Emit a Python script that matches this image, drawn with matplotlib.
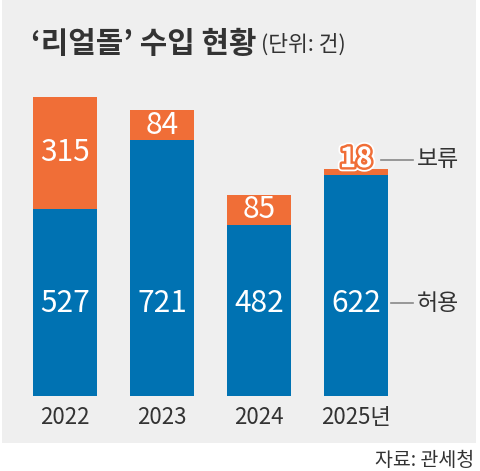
import matplotlib
matplotlib.use("Agg")
import matplotlib.pyplot as plt
from matplotlib.patches import Rectangle
import matplotlib.patheffects as pe

plt.rcParams['font.family'] = ['Noto Sans CJK KR', 'DejaVu Sans']

years = ["2022", "2023", "2024", "2025년"]
allowed = [527, 721, 482, 622]   # 허용
held = [315, 84, 85, 18]         # 보류

BLUE = "#0072b2"
ORANGE = "#f06e37"
PANEL = "#efefef"
TXT = "#333333"

W, H = 480, 471
fig = plt.figure(figsize=(W / 100, H / 100), dpi=100, facecolor="white")

# gray panel
fig.patches.append(Rectangle((2 / W, (H - 443) / H), 474 / W, 443 / H,
                             transform=fig.transFigure, facecolor=PANEL,
                             edgecolor="none", zorder=-1))

base_px = 396
scale = 299 / 842.0  # px per unit
ax = fig.add_axes([0, (H - base_px) / H, 1, base_px / H])
ax.set_zorder(2)
ax.set_facecolor("none")
x = list(range(len(years)))
ax.set_xlim(-65 / 97, (W - 65) / 97)
ax.set_ylim(0, base_px / scale)

bw = 64 / 97
ax.bar(x, allowed, width=bw, color=BLUE, zorder=2)
ax.bar(x, held, width=bw, bottom=allowed, color=ORANGE, zorder=2)

for s in ax.spines.values():
    s.set_visible(False)
ax.set_yticks([])
ax.set_xticks(x)
ax.set_xticklabels(years, fontsize=16, color=TXT, fontweight="light")
ax.tick_params(axis="x", length=0, pad=7)

blue_label_y = (base_px - 303) / scale
for i in range(len(years)):
    ax.text(x[i], blue_label_y, str(allowed[i]), ha="center", va="center",
            fontsize=21.5, color="white", fontweight="light", zorder=3)
    if i < 3:
        ax.text(x[i], allowed[i] + held[i] / 2, str(held[i]), ha="center",
                va="center", fontsize=21.5, color="white", fontweight="light",
                zorder=3)
    else:
        t = ax.text(x[i], allowed[i] + held[i] + 27, str(held[i]), ha="center",
                    va="center", fontsize=20, fontweight="bold", color="white",
                    zorder=4)
        t.set_path_effects([pe.Stroke(linewidth=6, foreground="white"),
                            pe.Stroke(linewidth=3.5, foreground=ORANGE),
                            pe.Normal()])

# leader lines and series labels (figure pixel coords -> fraction)
def fx(px):
    return px / W

def fy(py):
    return (H - py) / H

fig.add_artist(plt.Line2D([fx(381), fx(413)], [fy(160), fy(160)],
                          color="#888888", lw=1.2, zorder=3))
fig.add_artist(plt.Line2D([fx(391), fx(413)], [fy(303), fy(303)],
                          color="#888888", lw=1.2, zorder=3))
fig.text(fx(417), fy(160), "보류", ha="left", va="center", fontsize=16.5, color=TXT)
fig.text(fx(417), fy(303), "허용", ha="left", va="center", fontsize=16.5, color=TXT)

# title
fig.text(fx(31), fy(44), "‘리얼돌’ 수입 현황", ha="left", va="center",
         fontsize=21.5, fontweight="bold", color=TXT)
fig.text(fx(261), fy(45), "(단위: 건)", ha="left", va="center",
         fontsize=15.5, color=TXT)

# source
fig.text(fx(474), fy(460), "자료: 관세청", ha="right", va="center",
         fontsize=14, color=TXT)

fig.savefig("out.png", dpi=100, facecolor="white")
